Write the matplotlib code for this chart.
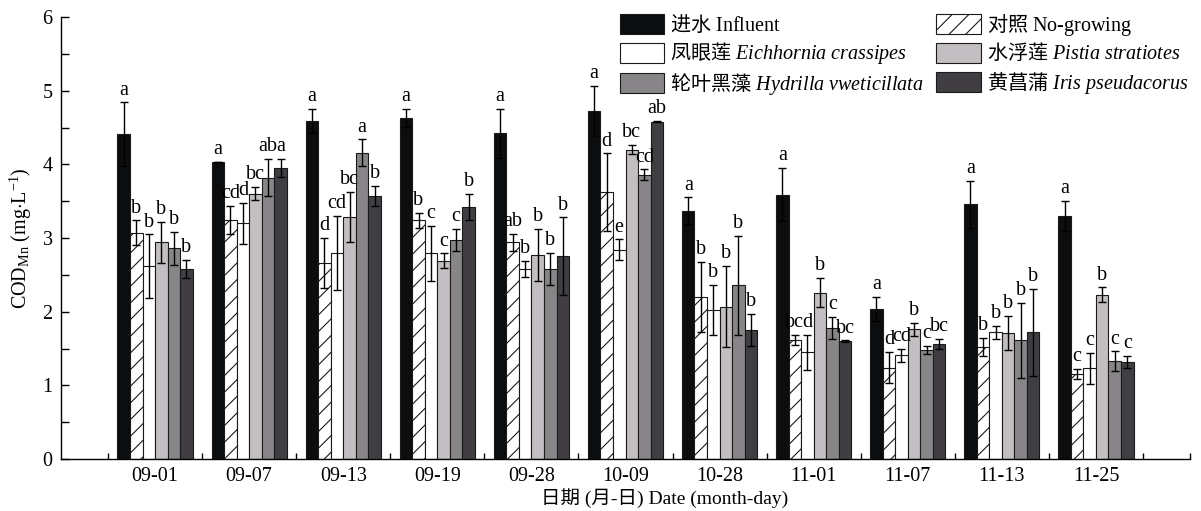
import numpy as np
import matplotlib
matplotlib.use('Agg')
import matplotlib.pyplot as plt
from matplotlib.patches import Patch

plt.rcParams['font.family'] = ['Liberation Serif', 'Noto Sans CJK SC']
plt.rcParams['mathtext.fontset'] = 'custom'
plt.rcParams['mathtext.rm'] = 'Liberation Serif'
plt.rcParams['mathtext.it'] = 'Liberation Serif:italic'
plt.rcParams['mathtext.sf'] = 'Noto Sans CJK SC'
plt.rcParams['hatch.linewidth'] = 0.8

dates = ['09-01', '09-07', '09-13', '09-19', '09-28', '10-09',
         '10-28', '11-01', '11-07', '11-13', '11-25']

influent = [4.41, 4.03, 4.59, 4.63, 4.42, 4.72, 3.37, 3.59, 2.04, 3.46, 3.30]
influent_err = [0.43, 0.0, 0.16, 0.12, 0.33, 0.34, 0.18, 0.36, 0.16, 0.32, 0.20]
influent_let = ['a'] * 11

nogrow = [3.07, 3.25, 2.66, 3.24, 2.94, 3.62, 2.20, 1.62, 1.24, 1.52, 1.15]
nogrow_err = [0.17, 0.19, 0.34, 0.10, 0.12, 0.53, 0.48, 0.07, 0.21, 0.12, 0.07]
nogrow_let = ['b', 'cd', 'd', 'b', 'ab', 'd', 'b', 'bc', 'd', 'b', 'c']

eich = [2.62, 3.20, 2.80, 2.79, 2.58, 2.84, 2.02, 1.45, 1.41, 1.72, 1.23]
eich_err = [0.43, 0.28, 0.50, 0.37, 0.11, 0.14, 0.34, 0.24, 0.09, 0.09, 0.21]
eich_let = ['b', 'd', 'cd', 'c', 'b', 'e', 'b', 'd', 'cd', 'b', 'c']

pistia = [2.94, 3.60, 3.29, 2.69, 2.77, 4.20, 2.07, 2.26, 1.76, 1.71, 2.23]
pistia_err = [0.28, 0.09, 0.34, 0.10, 0.35, 0.06, 0.55, 0.20, 0.09, 0.23, 0.10]
pistia_let = ['b', 'bc', 'bc', 'c', 'b', 'bc', 'b', 'b', 'b', 'b', 'b']

hydrilla = [2.86, 3.82, 4.16, 2.97, 2.58, 3.86, 2.36, 1.78, 1.48, 1.61, 1.33]
hydrilla_err = [0.22, 0.25, 0.18, 0.15, 0.22, 0.07, 0.67, 0.15, 0.06, 0.51, 0.13]
hydrilla_let = ['b', 'ab', 'a', 'c', 'b', 'cd', 'b', 'c', 'c', 'b', 'c']

iris = [2.58, 3.95, 3.57, 3.42, 2.75, 4.58, 1.75, 1.60, 1.56, 1.72, 1.32]
iris_err = [0.12, 0.12, 0.14, 0.18, 0.53, 0.01, 0.22, 0.01, 0.07, 0.59, 0.08]
iris_let = ['b', 'a', 'b', 'b', 'b', 'ab', 'b', 'bc', 'bc', 'b', 'c']

series = [
    (influent, influent_err, influent_let, '#0b0d0e', None, r'$\mathsf{进水}$ Influent'),
    (nogrow, nogrow_err, nogrow_let, 'white', '//', r'$\mathsf{对照}$ No-growing'),
    (eich, eich_err, eich_let, 'white', None, r'$\mathsf{凤眼莲}$ $\mathit{Eichhornia\ crassipes}$'),
    (pistia, pistia_err, pistia_let, '#c2bec2', None, r'$\mathsf{水浮莲}$ $\mathit{Pistia\ stratiotes}$'),
    (hydrilla, hydrilla_err, hydrilla_let, '#878587', None, r'$\mathsf{轮叶黑藻}$ $\mathit{Hydrilla\ vweticillata}$'),
    (iris, iris_err, iris_let, '#403e42', None, r'$\mathsf{黄菖蒲}$ $\mathit{Iris\ pseudacorus}$'),
]

fig = plt.figure(figsize=(12.01, 5.11), dpi=100)
ax = fig.add_axes([61 / 1201, 1 - 459 / 511, (1190 - 61) / 1201, (459 - 17) / 511])

x = np.arange(len(dates))
w = 0.8 / 6
handles = []
for k, (vals, errs, lets, col, hatch, lab) in enumerate(series):
    pos = x - 0.4 + w * (k + 0.5)
    ax.bar(pos, vals, w, color=col, edgecolor='#1a1a1a', linewidth=0.8,
           hatch=hatch, zorder=2)
    ax.errorbar(pos, vals, yerr=errs, fmt='none', ecolor='black',
                elinewidth=1.0, capsize=3, capthick=1.0, zorder=3)
    for p, v, e, l in zip(pos, vals, errs, lets):
        ax.annotate(l, (p, v + e), xytext=(0, 2), textcoords='offset points',
                    ha='center', va='bottom', fontsize=14.5)
    handles.append(Patch(facecolor=col, edgecolor='#1a1a1a', linewidth=0.8,
                         hatch=hatch, label=lab))

ax.set_xlim(-1, 11)
ax.set_ylim(0, 6)
ax.set_xticks(x)
ax.set_xticklabels(dates)
ax.set_xticks(list(np.arange(-0.5, 11, 1)) + [11], minor=True)
ax.set_yticks(np.arange(0, 7, 1))
ax.set_yticks(np.arange(0.5, 6, 1), minor=True)
ax.tick_params(axis='x', which='major', length=0, pad=6, labelsize=14.5)
ax.tick_params(axis='x', which='minor', direction='in', length=4, width=1)
ax.tick_params(axis='y', which='both', direction='in', length=6, width=1,
               pad=6, labelsize=14.5)
for s in ['top', 'right']:
    ax.spines[s].set_visible(False)
for s in ['left', 'bottom']:
    ax.spines[s].set_linewidth(1.0)

ax.set_ylabel(r'COD$_{\rm Mn}$ (mg$\cdot$L$^{-1}$)', fontsize=14.5, labelpad=6)
ax.set_xlabel('日期 (月-日) Date (month-day)', fontsize=14, x=0.535, labelpad=1)

order = [0, 2, 4, 1, 3, 5]
fig.legend([handles[i] for i in order], [handles[i].get_label() for i in order],
           loc='upper right', bbox_to_anchor=(1188 / 1201, 1 - 12 / 511),
           ncol=2, frameon=False, fontsize=14.5, handlelength=2.2,
           handleheight=1.15, handletextpad=0.3, columnspacing=0.6,
           labelspacing=0.22, borderpad=0, borderaxespad=0)

fig.savefig('out.png', dpi=100)
